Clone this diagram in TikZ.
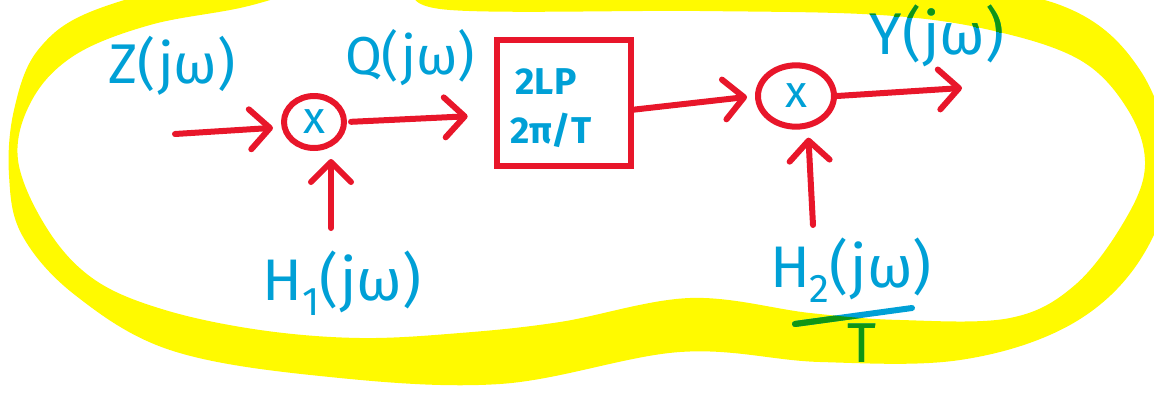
\documentclass[tikz,border=0pt]{standalone}
\usepackage{fontspec}
\setmainfont{Fira Sans}
\usetikzlibrary{arrows.meta,shapes.geometric}
\definecolor{hlyellow}{RGB}{255,250,0}
\definecolor{penred}{RGB}{232,22,42}
\definecolor{penblue}{RGB}{0,160,214}
\definecolor{pengreen}{RGB}{16,150,20}
\newcommand\hsub[1]{\raisebox{-0.25em}{\fontsize{30}{30}\selectfont #1}}
\begin{document}
\begin{tikzpicture}[x=0.75pt,y=-0.75pt,
  pen/.style={line width=4.5pt,line cap=round,line join=round},
  redpen/.style={pen,draw=penred},
  arr/.style={redpen,-{Straight Barb[length=15pt,width=30pt,line cap=round,line join=round]}},
  lbl/.style={inner sep=0pt,text=penblue,font=\fontsize{40}{42}\selectfont},
  hlbl/.style={lbl,font=\fontsize{44}{46}\selectfont},
  boxtxt/.style={inner sep=0pt,text=penblue,font=\fontsize{28}{30}\selectfont\bfseries},
  mult/.style={ellipse,draw=penred,line width=4.5pt,inner sep=0pt,text=penblue,font=\fontsize{34}{34}\selectfont},
  hlout/.style={insert path={plot[smooth cycle,tension=0.6] coordinates {(9,175) (14,110) (38,50) (95,10) (220,-20) (420,-35) (700,-30) (900,-20) (1060,5) (1140,70) (1170,170) (1140,260) (1070,325) (960,360) (820,362) (680,352) (500,384) (320,376) (170,350) (75,295) (22,235)}}},
  hlin/.style={insert path={plot[smooth cycle,tension=0.6] coordinates {(18,160) (32,100) (75,55) (150,25) (240,8) (320,-12) (400,-12) (450,10) (700,11) (880,15) (990,30) (1080,60) (1128,110) (1145,165) (1125,220) (1075,285) (1010,318) (900,320) (810,313) (690,298) (560,322) (460,333) (360,338) (260,330) (165,310) (95,280) (48,230)}}}
]
\useasboundingbox (0,0) rectangle (1154,411);
\clip (0,0) rectangle (1154,411);
% highlighter band
\fill[hlyellow,even odd rule,hlout,hlin];

% blocks
\node[mult,minimum width=45pt,minimum height=39pt] (c1) at (314,122) {x};
\node[mult,minimum width=57pt,minimum height=46pt] (c2) at (796,96) {x};
\node[draw=penred,line width=4.5pt,minimum width=100pt,minimum height=94pt,inner sep=0pt] (lpf) at (564,103) {};
\node[boxtxt] (lpfa) at (546,82) {2LP};
\node[boxtxt] (lpfb) at (551,130) {2π/T};

% free ends
\coordinate (zin) at (175,134);
\coordinate (h1in) at (331,228);
\coordinate (h2in) at (813,225);
\coordinate (yout) at (962,88);

% connectors
\draw[arr,shorten >=6pt] (zin) -- ([yshift=-4pt]c1.west);
\draw[arr,shorten <=3pt,shorten >=20pt] (c1.east) -- ([yshift=-9pt]lpf.west);
\draw[arr,shorten >=6pt] ([yshift=-5pt]lpf.east) -- (c2.west);
\draw[arr] (c2.east) -- (yout);
\draw[arr,shorten >=6pt] (h1in) -- (h1in |- c1.south);
\draw[arr,shorten >=6pt] (h2in) -- ([xshift=9pt]c2.south);

% labels
\node[lbl,font=\fontsize{42}{44}\selectfont] (zl) at (172,66) {Z(jω)};
\node[lbl] (ql) at (410,58) {Q(jω)};
\node[lbl,font=\fontsize{44}{46}\selectfont] (yl) at (937,36) {Y(jω)};
\node[hlbl] (h1l) at (342,283) {H\hsub{1}(jω)};
\node[hlbl] (h2l) at (851,270) {H\hsub{2}(jω)};
\coordinate (fracL) at (795,324);
\coordinate (fracR) at (912,308);
\draw[pen,draw=penblue] (fracL) -- (fracR);
\node[lbl,font=\fontsize{42}{44}\selectfont] (tl) at (862,343) {T};

% ink over the highlighter turns green
\begin{scope}[even odd rule]
\clip[hlout,hlin];
\node[lbl,text=pengreen,font=\fontsize{44}{46}\selectfont] (ylg) at (937,36) {Y(jω)};
\node[hlbl,text=pengreen] (h2lg) at (851,270) {H\hsub{2}(jω)};
\draw[pen,draw=pengreen] (fracL) -- (fracR);
\node[lbl,text=pengreen,font=\fontsize{42}{44}\selectfont] (tlg) at (862,343) {T};
\end{scope}
\end{tikzpicture}
\end{document}
